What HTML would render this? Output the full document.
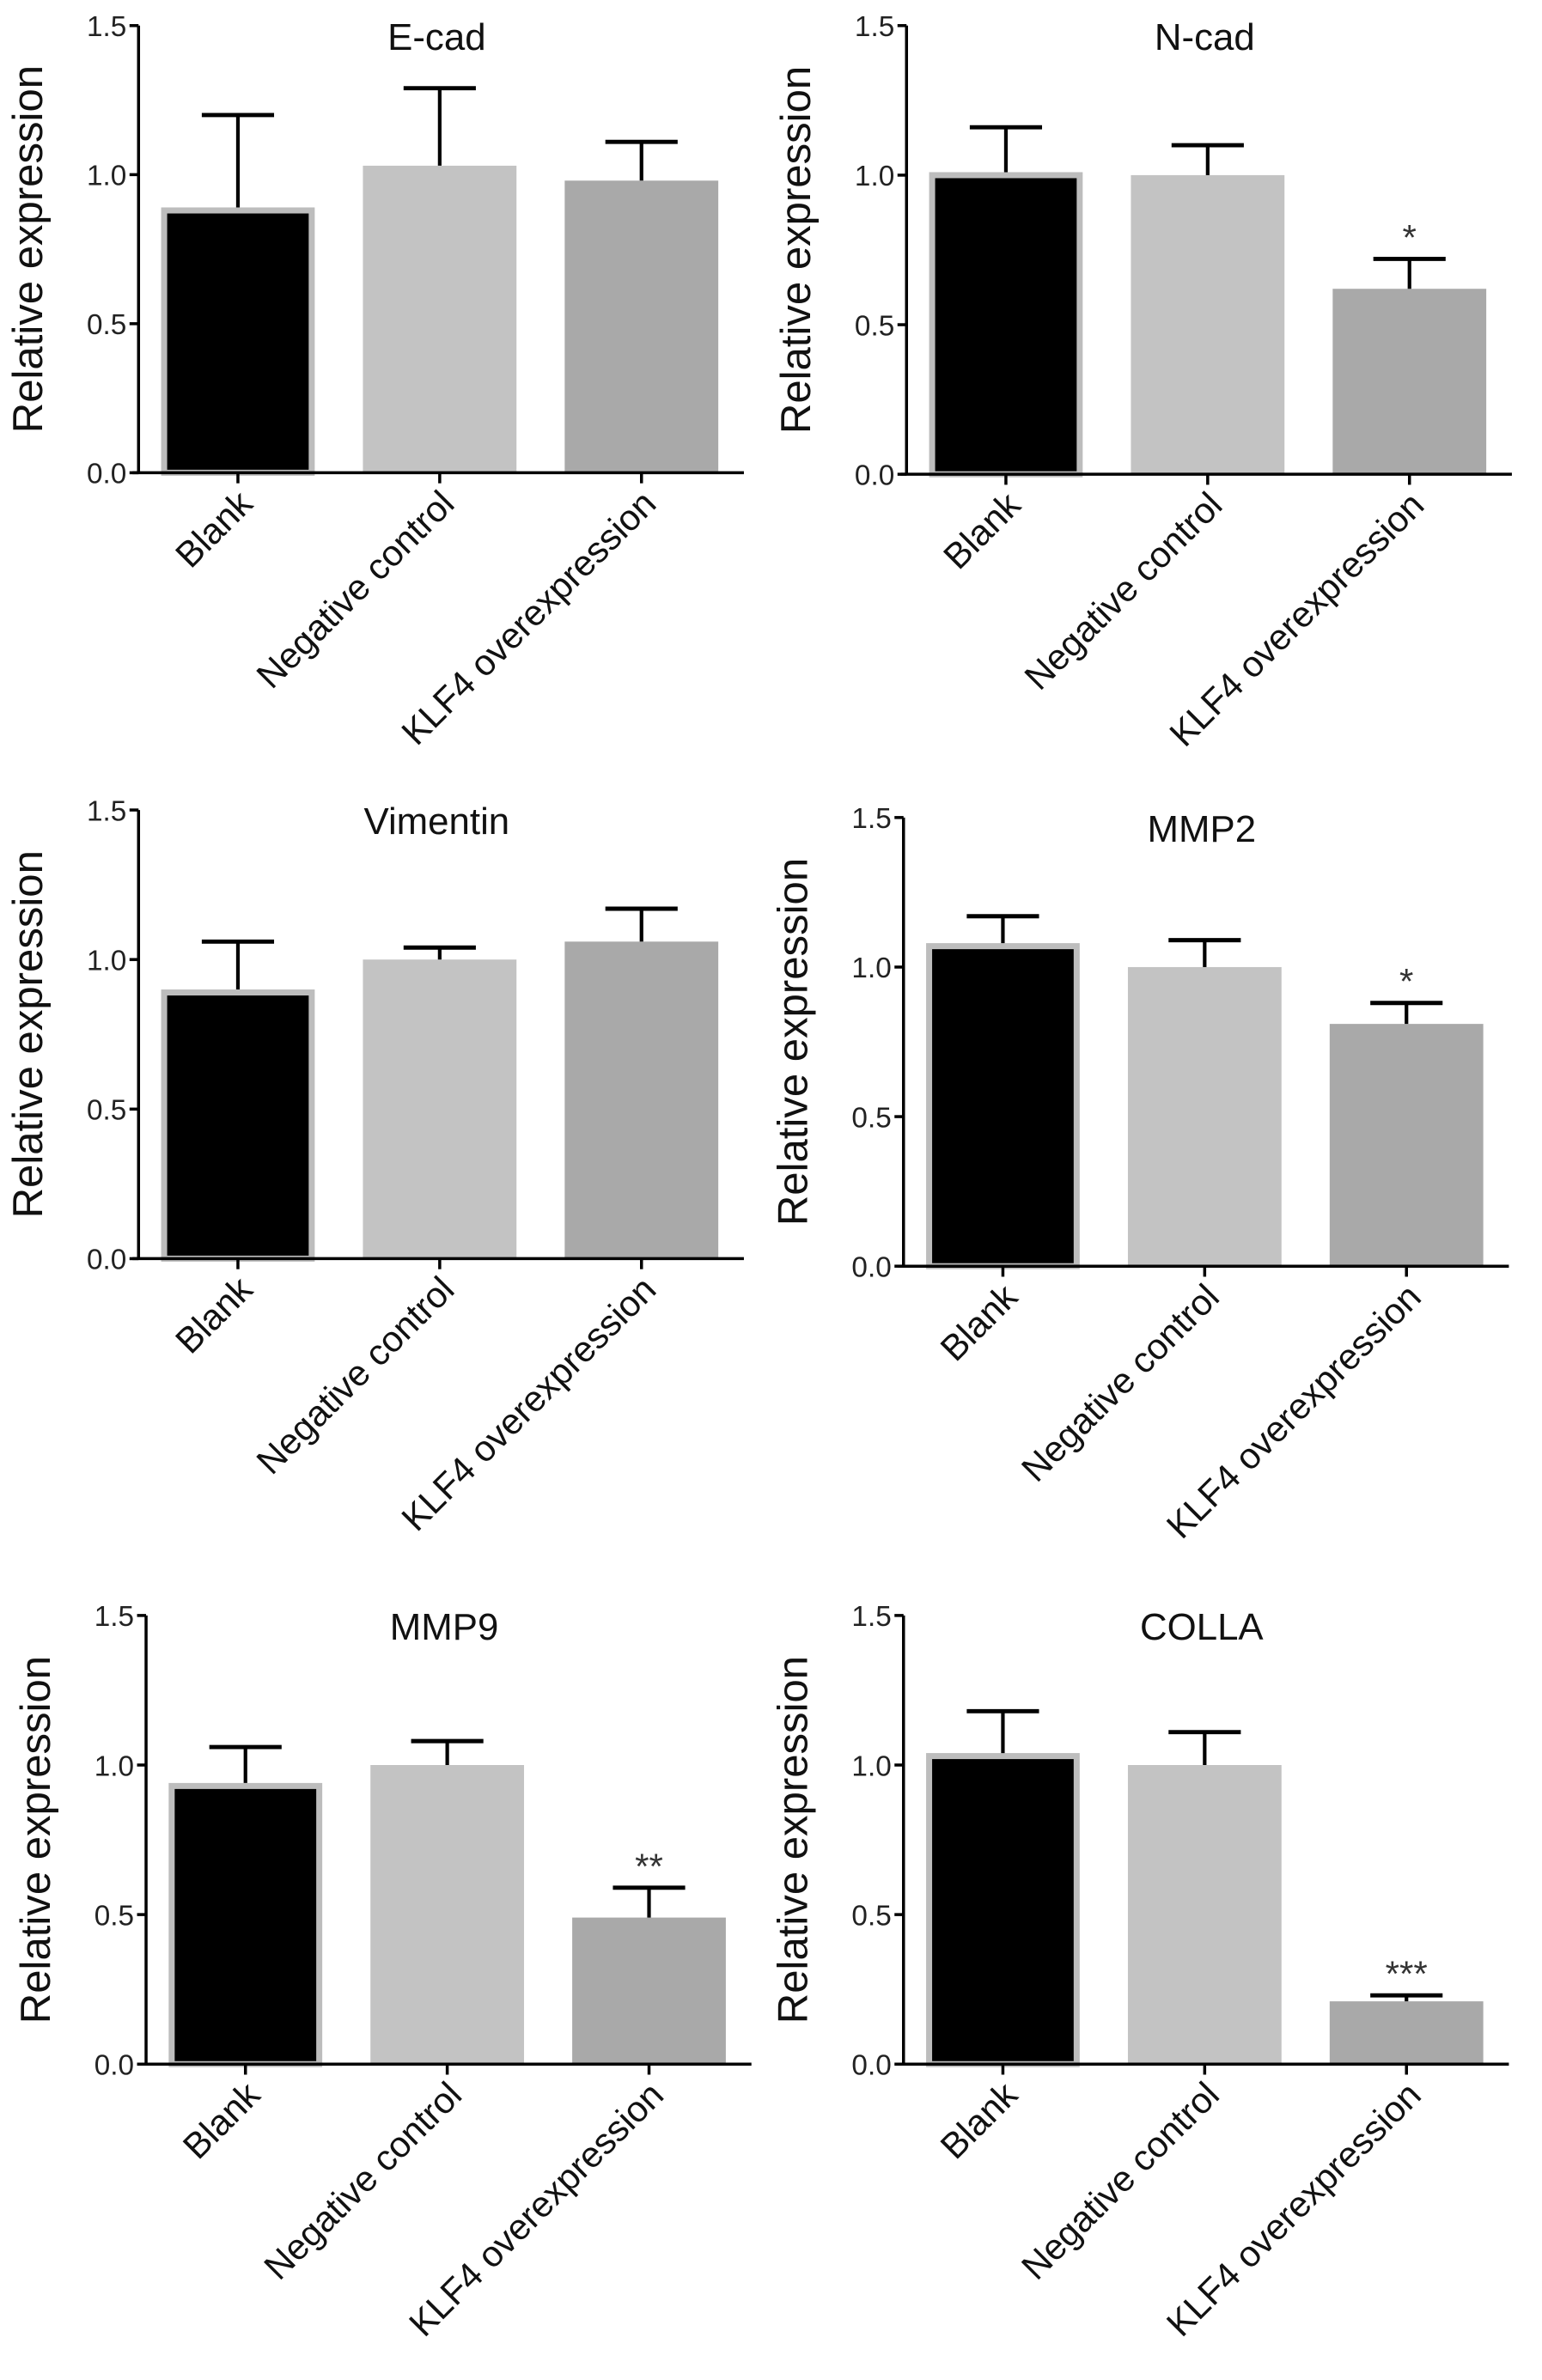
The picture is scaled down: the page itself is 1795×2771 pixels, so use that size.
<!DOCTYPE html>
<html><head><meta charset="utf-8"><style>
html,body{margin:0;padding:0;background:#fff;}
svg{display:block;}
text{font-family:"Liberation Sans",Arial,sans-serif;}
</style></head><body>
<svg id="fig" width="1795" height="2771" viewBox="0 0 1024 1580.8" xmlns="http://www.w3.org/2000/svg"></svg>
<script>
const categories = ["Blank", "Negative control", "KLF4 overexpression"];
const titles = ["E-cad", "N-cad", "Vimentin", "MMP2", "MMP9", "COLLA"];
const meanEcad = [0.89, 1.03, 0.98];
const errEcad = [1.20, 1.29, 1.11];
const meanNcad = [1.01, 1.00, 0.62];
const errNcad = [1.16, 1.10, 0.72];
const meanVim = [0.90, 1.00, 1.06];
const errVim = [1.06, 1.04, 1.17];
const meanMmp2 = [1.08, 1.00, 0.81];
const errMmp2 = [1.17, 1.09, 0.88];
const meanMmp9 = [0.94, 1.00, 0.49];
const errMmp9 = [1.06, 1.08, 0.59];
const meanColla = [1.04, 1.00, 0.21];
const errColla = [1.18, 1.11, 0.23];
const sigNcad = ["", "", "*"];
const sigMmp2 = ["", "", "*"];
const sigMmp9 = ["", "", "**"];
const sigColla = ["", "", "***"];
const sigNone = ["", "", ""];
const yTicks = [0, 0.5, 1.0, 1.5];
const yTickLabels = ["0.0", "0.5", "1.0", "1.5"];

const panels = [
  {title:titles[0], mean:meanEcad, err:errEcad, sig:sigNone, ax:92, yTop:17, yBot:314},
  {title:titles[1], mean:meanNcad, err:errNcad, sig:sigNcad, ax:602, yTop:17, yBot:315},
  {title:titles[2], mean:meanVim, err:errVim, sig:sigNone, ax:92, yTop:538, yBot:836},
  {title:titles[3], mean:meanMmp2, err:errMmp2, sig:sigMmp2, ax:600, yTop:543, yBot:841},
  {title:titles[4], mean:meanMmp9, err:errMmp9, sig:sigMmp9, ax:97, yTop:1073, yBot:1371},
  {title:titles[5], mean:meanColla, err:errColla, sig:sigColla, ax:600, yTop:1073, yBot:1371}
];
const fills = ["#000000", "#c3c3c3", "#a9a9a9"];
const NS = "http://www.w3.org/2000/svg";
const svg = document.getElementById("fig");
function mk(tag, attrs, parent){
  const e = document.createElementNS(NS, tag);
  for (const k in attrs) e.setAttribute(k, attrs[k]);
  parent.appendChild(e);
  return e;
}
panels.forEach((p, pi) => {
  const g = mk("g", {}, svg);
  
  
  const y = v => p.yBot - (v / 1.5) * (p.yBot - p.yTop);
  const x = i => p.ax + 66 + i * 134;
  const bw = 102;
  const yax = mk("line", {x1:p.ax, y1:p.yTop, x2:p.ax, y2:p.yBot, stroke:"#000", "stroke-width":2}, g);
  
  
  yTicks.forEach((t, ti) => {
    const tk = mk("line", {x1:p.ax - 6, y1:y(t), x2:p.ax, y2:y(t), stroke:"#000", "stroke-width":2}, g);
    
    
    const tl = mk("text", {x:p.ax - 8, y:y(t) + 7, "font-size":19, "text-anchor":"end", fill:"#222"}, g);
    tl.textContent = yTickLabels[ti];
    
    
  });
  const yl = mk("text", {x:0, y:0, "font-size":28, "text-anchor":"middle", fill:"#111",
    transform:"translate(" + (p.ax - 64) + "," + ((p.yTop + p.yBot) / 2) + ") rotate(-90)"}, g);
  yl.textContent = "Relative expression";
  
  
  const tt = mk("text", {x:p.ax + 198, y:p.yTop + 16, "font-size":25, "text-anchor":"middle", fill:"#111"}, g);
  tt.textContent = p.title;
  
  
  categories.forEach((c, i) => {
    const cx = x(i);
    const top = y(p.mean[i]);
    let bar;
    if (i === 0) {
      bar = mk("rect", {x:cx - bw/2 + 2, y:top + 2, width:bw - 4, height:p.yBot - top - 2, fill:"#000", stroke:"#bdbdbd", "stroke-width":4}, g);
    } else {
      bar = mk("rect", {x:cx - bw/2, y:top, width:bw, height:p.yBot - top, fill:fills[i]}, g);
    }
    
    
    const et = y(p.err[i]);
    const ev = mk("line", {x1:cx, y1:top, x2:cx, y2:et, stroke:"#000", "stroke-width":2.4}, g);
    
    
    const ec = mk("line", {x1:cx - 24, y1:et, x2:cx + 24, y2:et, stroke:"#000", "stroke-width":2.8}, g);
    
    
    if (p.sig[i]) {
      const s = mk("text", {x:cx, y:et - 6, "font-size":24, "text-anchor":"middle", fill:"#333"}, g);
      s.textContent = p.sig[i];
      
      
    }
    const xt = mk("line", {x1:cx, y1:p.yBot, x2:cx, y2:p.yBot + 7, stroke:"#000", "stroke-width":2}, g);
    
    
    const cl = mk("text", {x:0, y:0, "font-size":24, "text-anchor":"end", fill:"#111",
      transform:"translate(" + (cx + 11) + "," + (p.yBot + 22) + ") rotate(-45)"}, g);
    cl.textContent = c;
    
    
  });
  const xax = mk("line", {x1:p.ax - 4, y1:p.yBot, x2:p.ax + 402, y2:p.yBot, stroke:"#000", "stroke-width":2}, g);
  
  
});
</script>
</body></html>
